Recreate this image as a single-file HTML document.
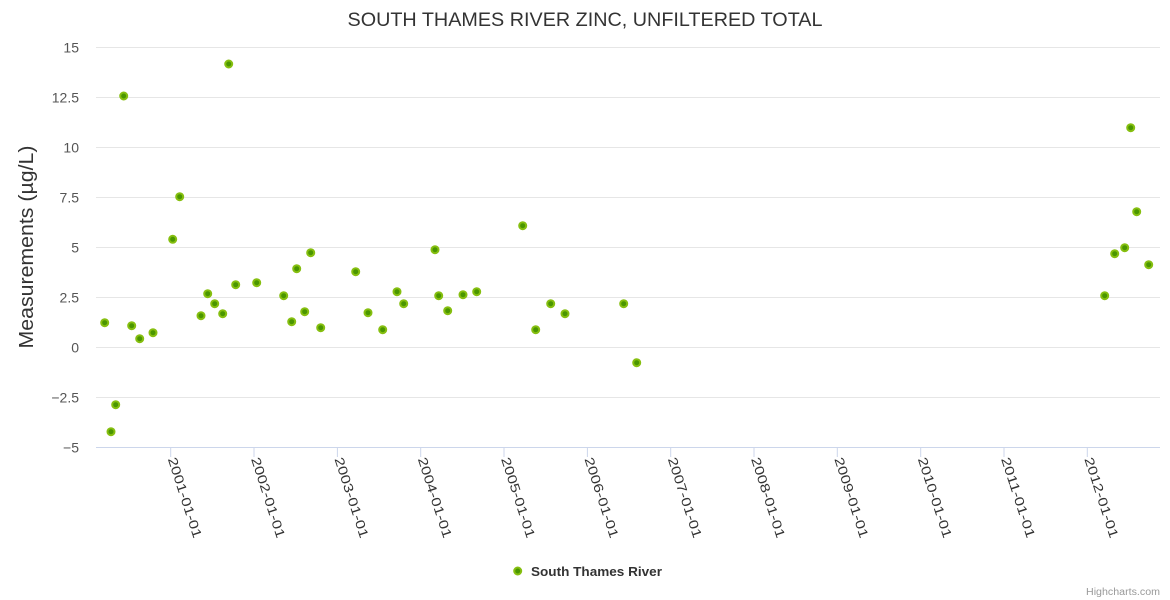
<!DOCTYPE html>
<html>
<head>
<meta charset="utf-8">
<style>
html,body{margin:0;padding:0;background:#fff;}
svg{display:block;font-family:"Liberation Sans",sans-serif;}
</style>
</head>
<body>
<svg width="1170" height="600" viewBox="0 0 1170 600" xmlns="http://www.w3.org/2000/svg">
<rect x="0" y="0" width="1170" height="600" fill="#ffffff"/>
<text x="585" y="26" text-anchor="middle" font-size="19" fill="#333333" textLength="475" lengthAdjust="spacingAndGlyphs">SOUTH THAMES RIVER ZINC, UNFILTERED TOTAL</text>
<g stroke="#e6e6e6" stroke-width="1">
<line x1="96" y1="47.5" x2="1160" y2="47.5"/>
<line x1="96" y1="97.5" x2="1160" y2="97.5"/>
<line x1="96" y1="147.5" x2="1160" y2="147.5"/>
<line x1="96" y1="197.5" x2="1160" y2="197.5"/>
<line x1="96" y1="247.5" x2="1160" y2="247.5"/>
<line x1="96" y1="297.5" x2="1160" y2="297.5"/>
<line x1="96" y1="347.5" x2="1160" y2="347.5"/>
<line x1="96" y1="397.5" x2="1160" y2="397.5"/>
</g>
<line x1="96" y1="447.5" x2="1160" y2="447.5" stroke="#ccd6eb" stroke-width="1"/>
<g stroke="#ccd6eb" stroke-width="1">
<line x1="170.7" y1="447.5" x2="170.7" y2="457"/>
<line x1="254.0" y1="447.5" x2="254.0" y2="457"/>
<line x1="337.4" y1="447.5" x2="337.4" y2="457"/>
<line x1="420.7" y1="447.5" x2="420.7" y2="457"/>
<line x1="504.0" y1="447.5" x2="504.0" y2="457"/>
<line x1="587.4" y1="447.5" x2="587.4" y2="457"/>
<line x1="670.7" y1="447.5" x2="670.7" y2="457"/>
<line x1="754.0" y1="447.5" x2="754.0" y2="457"/>
<line x1="837.3" y1="447.5" x2="837.3" y2="457"/>
<line x1="920.7" y1="447.5" x2="920.7" y2="457"/>
<line x1="1004.0" y1="447.5" x2="1004.0" y2="457"/>
<line x1="1087.3" y1="447.5" x2="1087.3" y2="457"/>
</g>
<g font-size="14" fill="#555555" text-anchor="end">
<text x="79" y="52.5">15</text>
<text x="79" y="102.5">12.5</text>
<text x="79" y="152.5">10</text>
<text x="79" y="202.5">7.5</text>
<text x="79" y="252.5">5</text>
<text x="79" y="302.5">2.5</text>
<text x="79" y="352.5">0</text>
<text x="79" y="402.5">−2.5</text>
<text x="79" y="452.5">−5</text>
</g>
<text transform="translate(33,247) rotate(-90)" text-anchor="middle" font-size="20" fill="#333333" textLength="203" lengthAdjust="spacingAndGlyphs">Measurements (µg/L)</text>
<g font-size="13" fill="#333333">
<text transform="translate(167.7,459) rotate(72)" textLength="84" lengthAdjust="spacingAndGlyphs">2001-01-01</text>
<text transform="translate(251.0,459) rotate(72)" textLength="84" lengthAdjust="spacingAndGlyphs">2002-01-01</text>
<text transform="translate(334.4,459) rotate(72)" textLength="84" lengthAdjust="spacingAndGlyphs">2003-01-01</text>
<text transform="translate(417.7,459) rotate(72)" textLength="84" lengthAdjust="spacingAndGlyphs">2004-01-01</text>
<text transform="translate(501.0,459) rotate(72)" textLength="84" lengthAdjust="spacingAndGlyphs">2005-01-01</text>
<text transform="translate(584.4,459) rotate(72)" textLength="84" lengthAdjust="spacingAndGlyphs">2006-01-01</text>
<text transform="translate(667.7,459) rotate(72)" textLength="84" lengthAdjust="spacingAndGlyphs">2007-01-01</text>
<text transform="translate(751.0,459) rotate(72)" textLength="84" lengthAdjust="spacingAndGlyphs">2008-01-01</text>
<text transform="translate(834.3,459) rotate(72)" textLength="84" lengthAdjust="spacingAndGlyphs">2009-01-01</text>
<text transform="translate(917.7,459) rotate(72)" textLength="84" lengthAdjust="spacingAndGlyphs">2010-01-01</text>
<text transform="translate(1001.0,459) rotate(72)" textLength="84" lengthAdjust="spacingAndGlyphs">2011-01-01</text>
<text transform="translate(1084.3,459) rotate(72)" textLength="84" lengthAdjust="spacingAndGlyphs">2012-01-01</text>
</g>
<g fill="#4a9600" stroke="#86bf10" stroke-width="2">
<circle cx="104.7" cy="322.7" r="3.5"/>
<circle cx="111" cy="431.7" r="3.5"/>
<circle cx="115.7" cy="404.7" r="3.5"/>
<circle cx="123.7" cy="96" r="3.5"/>
<circle cx="131.7" cy="325.7" r="3.5"/>
<circle cx="139.7" cy="338.7" r="3.5"/>
<circle cx="153" cy="332.7" r="3.5"/>
<circle cx="172.7" cy="239.3" r="3.5"/>
<circle cx="179.7" cy="196.7" r="3.5"/>
<circle cx="201" cy="315.7" r="3.5"/>
<circle cx="207.7" cy="293.7" r="3.5"/>
<circle cx="214.7" cy="303.7" r="3.5"/>
<circle cx="222.7" cy="313.7" r="3.5"/>
<circle cx="228.7" cy="64" r="3.5"/>
<circle cx="235.7" cy="284.7" r="3.5"/>
<circle cx="256.7" cy="282.7" r="3.5"/>
<circle cx="283.7" cy="295.7" r="3.5"/>
<circle cx="291.7" cy="321.7" r="3.5"/>
<circle cx="296.7" cy="268.7" r="3.5"/>
<circle cx="304.7" cy="311.7" r="3.5"/>
<circle cx="310.7" cy="252.7" r="3.5"/>
<circle cx="320.7" cy="327.7" r="3.5"/>
<circle cx="355.7" cy="271.7" r="3.5"/>
<circle cx="368" cy="312.7" r="3.5"/>
<circle cx="382.7" cy="329.7" r="3.5"/>
<circle cx="397" cy="291.7" r="3.5"/>
<circle cx="403.7" cy="303.7" r="3.5"/>
<circle cx="435" cy="249.7" r="3.5"/>
<circle cx="438.7" cy="295.7" r="3.5"/>
<circle cx="447.7" cy="310.7" r="3.5"/>
<circle cx="463" cy="294.7" r="3.5"/>
<circle cx="476.7" cy="291.7" r="3.5"/>
<circle cx="522.7" cy="225.7" r="3.5"/>
<circle cx="535.7" cy="329.7" r="3.5"/>
<circle cx="550.7" cy="303.7" r="3.5"/>
<circle cx="565" cy="313.7" r="3.5"/>
<circle cx="623.7" cy="303.7" r="3.5"/>
<circle cx="636.7" cy="362.7" r="3.5"/>
<circle cx="1104.7" cy="295.7" r="3.5"/>
<circle cx="1114.7" cy="253.7" r="3.5"/>
<circle cx="1124.7" cy="247.7" r="3.5"/>
<circle cx="1130.7" cy="127.7" r="3.5"/>
<circle cx="1136.7" cy="211.7" r="3.5"/>
<circle cx="1148.7" cy="264.7" r="3.5"/>
</g>
<circle cx="517.7" cy="571" r="3.5" fill="#4a9600" stroke="#86bf10" stroke-width="2"/>
<text x="531" y="576" font-size="13" font-weight="bold" fill="#333333" textLength="131" lengthAdjust="spacingAndGlyphs">South Thames River</text>
<text x="1160" y="595" text-anchor="end" font-size="10" fill="#999999" textLength="74" lengthAdjust="spacingAndGlyphs">Highcharts.com</text>
</svg>
</body>
</html>
